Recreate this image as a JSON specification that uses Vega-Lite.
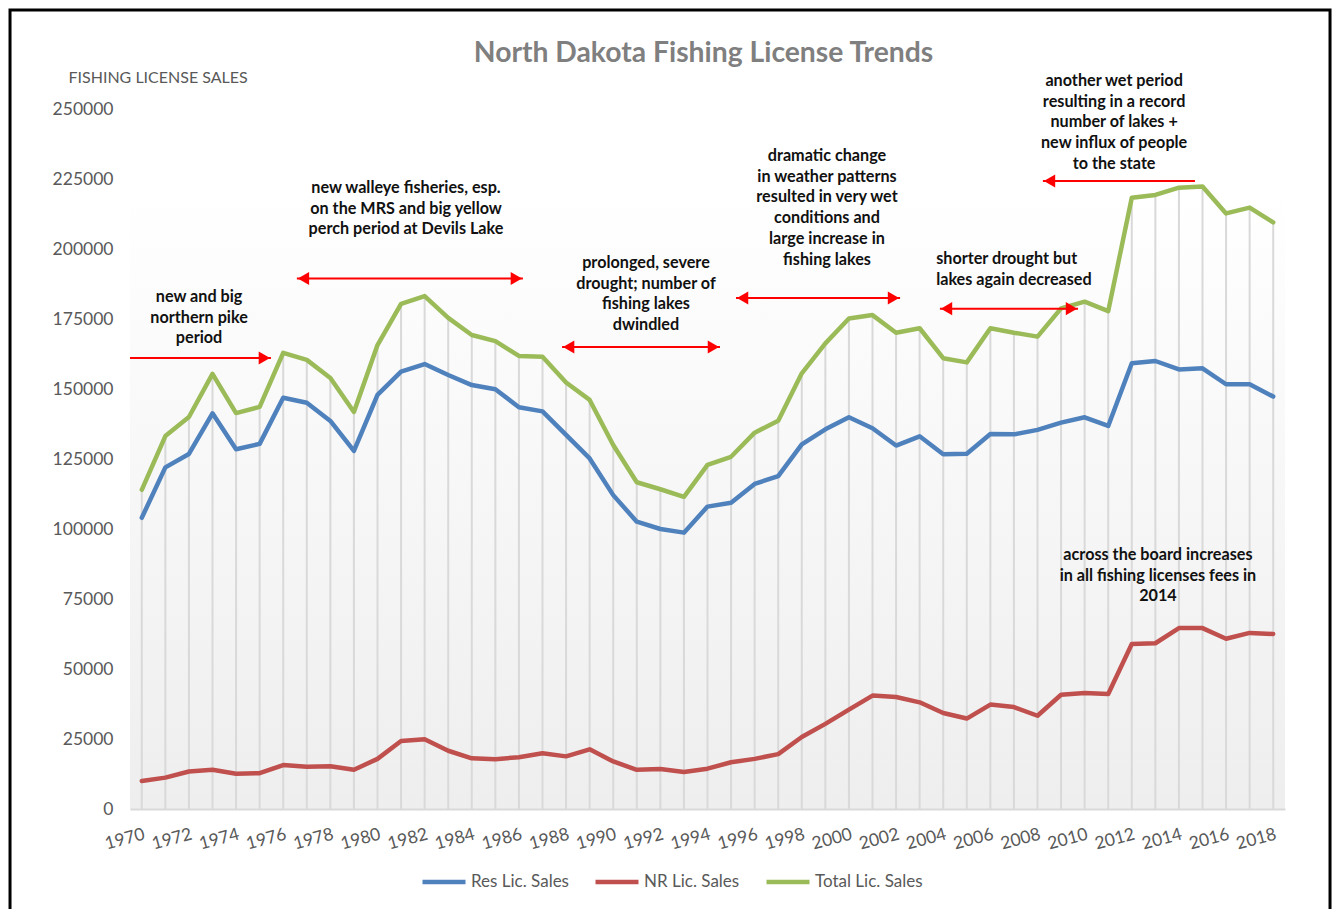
{
  "$schema": "https://vega.github.io/schema/vega-lite/v6.json",
  "autosize": {"type": "none"},
  "width": 1155,
  "height": 700,
  "padding": {"left": 130, "top": 109, "right": 51, "bottom": 100},
  "background": "#ffffff",
  "title": {
    "text": "North Dakota Fishing License Trends",
    "frame": "group",
    "anchor": "middle",
    "baseline": "bottom",
    "dx": -4,
    "offset": -88,
    "font": "Lato",
    "fontSize": 28.3,
    "fontWeight": "bold",
    "color": "#7f7f7f"
  },
  "datasets": {
    "sales": [
      {"year": 1970, "Res": 104000, "NR": 10000, "Total": 114000},
      {"year": 1971, "Res": 122000, "NR": 11200, "Total": 133200},
      {"year": 1972, "Res": 126800, "NR": 13400, "Total": 140000},
      {"year": 1973, "Res": 141300, "NR": 14000, "Total": 155400},
      {"year": 1974, "Res": 128500, "NR": 12600, "Total": 141400},
      {"year": 1975, "Res": 130400, "NR": 12800, "Total": 143600},
      {"year": 1976, "Res": 146900, "NR": 15700, "Total": 162900},
      {"year": 1977, "Res": 145100, "NR": 15100, "Total": 160400},
      {"year": 1978, "Res": 138600, "NR": 15300, "Total": 153900},
      {"year": 1979, "Res": 127900, "NR": 14000, "Total": 141800},
      {"year": 1980, "Res": 147900, "NR": 17900, "Total": 165700},
      {"year": 1981, "Res": 156200, "NR": 24300, "Total": 180400},
      {"year": 1982, "Res": 158900, "NR": 24900, "Total": 183200},
      {"year": 1983, "Res": 155000, "NR": 20800, "Total": 175400},
      {"year": 1984, "Res": 151400, "NR": 18100, "Total": 169300},
      {"year": 1985, "Res": 149900, "NR": 17800, "Total": 167100},
      {"year": 1986, "Res": 143500, "NR": 18500, "Total": 161800},
      {"year": 1987, "Res": 142000, "NR": 19900, "Total": 161500},
      {"year": 1988, "Res": 133600, "NR": 18800, "Total": 152300},
      {"year": 1989, "Res": 125200, "NR": 21300, "Total": 146100},
      {"year": 1990, "Res": 112100, "NR": 17000, "Total": 130000},
      {"year": 1991, "Res": 102600, "NR": 14000, "Total": 116700},
      {"year": 1992, "Res": 100000, "NR": 14300, "Total": 114200},
      {"year": 1993, "Res": 98700, "NR": 13200, "Total": 111500},
      {"year": 1994, "Res": 108000, "NR": 14400, "Total": 122900},
      {"year": 1995, "Res": 109400, "NR": 16700, "Total": 125800},
      {"year": 1996, "Res": 116100, "NR": 17900, "Total": 134400},
      {"year": 1997, "Res": 118900, "NR": 19600, "Total": 138700},
      {"year": 1998, "Res": 130200, "NR": 25700, "Total": 155600},
      {"year": 1999, "Res": 135600, "NR": 30400, "Total": 166300},
      {"year": 2000, "Res": 139900, "NR": 35500, "Total": 175200},
      {"year": 2001, "Res": 136000, "NR": 40500, "Total": 176400},
      {"year": 2002, "Res": 129800, "NR": 40000, "Total": 170100},
      {"year": 2003, "Res": 133100, "NR": 38100, "Total": 171700},
      {"year": 2004, "Res": 126700, "NR": 34300, "Total": 161000},
      {"year": 2005, "Res": 126900, "NR": 32300, "Total": 159500},
      {"year": 2006, "Res": 133900, "NR": 37300, "Total": 171700},
      {"year": 2007, "Res": 133800, "NR": 36400, "Total": 170100},
      {"year": 2008, "Res": 135400, "NR": 33300, "Total": 168700},
      {"year": 2009, "Res": 138000, "NR": 40800, "Total": 178800},
      {"year": 2010, "Res": 139900, "NR": 41400, "Total": 181200},
      {"year": 2011, "Res": 136800, "NR": 41100, "Total": 177800},
      {"year": 2012, "Res": 159200, "NR": 58900, "Total": 218300},
      {"year": 2013, "Res": 160000, "NR": 59200, "Total": 219300},
      {"year": 2014, "Res": 157000, "NR": 64600, "Total": 221900},
      {"year": 2015, "Res": 157400, "NR": 64600, "Total": 222300},
      {"year": 2016, "Res": 151700, "NR": 60800, "Total": 212700},
      {"year": 2017, "Res": 151700, "NR": 62900, "Total": 214800},
      {"year": 2018, "Res": 147300, "NR": 62500, "Total": 209500}
    ],
    "notes": [
      {"x": 1972.43, "y": 182900, "text": "new and big\nnorthern pike\nperiod"},
      {"x": 1981.21, "y": 221800, "text": "new walleye fisheries, esp.\non the MRS and big yellow\nperch period at Devils Lake"},
      {"x": 1991.39, "y": 195000, "text": "prolonged, severe\ndrought; number of\nfishing lakes\ndwindled"},
      {"x": 1999.07, "y": 233200, "text": "dramatic change\nin weather patterns\nresulted in very wet\nconditions and\nlarge increase in\nfishing lakes"},
      {"x": 2011.25, "y": 260000, "text": "another wet period\nresulting in a record\nnumber of lakes +\nnew influx of people\nto the state"},
      {"x": 2013.11, "y": 90700, "text": "across the board increases\nin all fishing licenses fees in\n2014"}
    ],
    "notesLeft": [
      {"x": 2003.7, "y": 196400, "text": "shorter drought but\nlakes again decreased"}
    ],
    "arrows": [
      {"x1": 1969.5, "x2": 1975.48, "y": 161100},
      {"x1": 1976.58, "x2": 1986.17, "y": 189500},
      {"x1": 1987.83, "x2": 1994.53, "y": 165000},
      {"x1": 1995.21, "x2": 2002.17, "y": 182500},
      {"x1": 2003.86, "x2": 2009.72, "y": 178700},
      {"x1": 2008.23, "x2": 2014.68, "y": 224300}
    ],
    "heads": [
      {"x": 1975.2, "y": 161100, "dir": "right"},
      {"x": 1976.86, "y": 189500, "dir": "left"},
      {"x": 1985.89, "y": 189500, "dir": "right"},
      {"x": 1988.11, "y": 165000, "dir": "left"},
      {"x": 1994.25, "y": 165000, "dir": "right"},
      {"x": 1995.49, "y": 182500, "dir": "left"},
      {"x": 2001.89, "y": 182500, "dir": "right"},
      {"x": 2004.14, "y": 178700, "dir": "left"},
      {"x": 2009.44, "y": 178700, "dir": "right"},
      {"x": 2008.51, "y": 224300, "dir": "left"}
    ]
  },
  "layer": [
    {
      "data": {"name": "sales"},
      "mark": {"type": "rule", "color": "#d9d9d9", "strokeWidth": 2},
      "encoding": {
        "x": {
          "field": "year",
          "type": "quantitative",
          "scale": {"domain": [1969.5, 2018.5], "nice": false, "zero": false},
          "axis": {
            "title": null,
            "values": [1970, 1972, 1974, 1976, 1978, 1980, 1982, 1984, 1986, 1988, 1990, 1992, 1994, 1996, 1998, 2000, 2002, 2004, 2006, 2008, 2010, 2012, 2014, 2016, 2018],
            "format": "d",
            "grid": false,
            "ticks": false,
            "tickSize": 0,
            "domain": true,
            "domainColor": "#d9d9d9",
            "domainWidth": 2,
            "labelAngle": -15,
            "labelAlign": "right",
            "labelBaseline": "top",
            "labelPadding": 16,
            "labelFont": "Lato",
            "labelFontSize": 17.5,
            "labelColor": "#595959",
            "labelOverlap": false
          }
        },
        "y": {
          "field": "Total",
          "type": "quantitative",
          "scale": {"domain": [0, 250000], "nice": false},
          "axis": {
            "title": "FISHING LICENSE SALES",
            "titleAngle": 0,
            "titleAlign": "left",
            "titleBaseline": "middle",
            "titleX": -62,
            "titleY": -32,
            "titleFont": "Lato",
            "titleFontSize": 16,
            "titleFontWeight": "normal",
            "titleColor": "#595959",
            "values": [0, 25000, 50000, 75000, 100000, 125000, 150000, 175000, 200000, 225000, 250000],
            "format": "d",
            "grid": false,
            "ticks": false,
            "tickSize": 0,
            "domain": false,
            "labelPadding": 17,
            "labelFont": "Lato",
            "labelFontSize": 17.5,
            "labelColor": "#595959"
          }
        },
        "y2": {"datum": 0}
      }
    },
    {
      "data": {"name": "sales"},
      "transform": [{"fold": ["Res", "NR", "Total"], "as": ["series", "value"]}],
      "mark": {"type": "line", "strokeWidth": 4.5, "strokeJoin": "round", "strokeCap": "round"},
      "encoding": {
        "x": {"field": "year", "type": "quantitative"},
        "y": {"field": "value", "type": "quantitative"},
        "color": {
          "field": "series",
          "type": "nominal",
          "scale": {"domain": ["Res", "NR", "Total"], "range": ["#4f81bd", "#c0504d", "#9bbb59"]},
          "legend": {
            "title": null,
            "orient": "none",
            "direction": "horizontal",
            "legendX": 290,
            "legendY": 749,
            "symbolType": "stroke",
            "symbolStrokeWidth": 4.5,
            "symbolSize": 1849,
            "labelOffset": 3,
            "columnPadding": 17,
            "labelFont": "Lato",
            "labelFontSize": 17,
            "labelColor": "#595959",
            "labelExpr": "datum.label == 'Res' ? 'Res Lic. Sales' : datum.label == 'NR' ? 'NR Lic. Sales' : 'Total Lic. Sales'"
          }
        }
      }
    },
    {
      "data": {"name": "notes"},
      "mark": {"type": "text", "font": "Lato", "fontSize": 16.2, "fontWeight": "bold", "color": "#111111", "align": "center", "baseline": "middle", "lineBreak": "\n", "lineHeight": 20.7},
      "encoding": {
        "x": {"field": "x", "type": "quantitative"},
        "y": {"field": "y", "type": "quantitative"},
        "text": {"field": "text"}
      }
    },
    {
      "data": {"name": "notesLeft"},
      "mark": {"type": "text", "font": "Lato", "fontSize": 16.2, "fontWeight": "bold", "color": "#111111", "align": "left", "baseline": "middle", "lineBreak": "\n", "lineHeight": 20.7},
      "encoding": {
        "x": {"field": "x", "type": "quantitative"},
        "y": {"field": "y", "type": "quantitative"},
        "text": {"field": "text"}
      }
    },
    {
      "data": {"name": "arrows"},
      "mark": {"type": "rule", "color": "#ff0000", "strokeWidth": 2, "clip": false},
      "encoding": {
        "x": {"field": "x1", "type": "quantitative"},
        "x2": {"field": "x2"},
        "y": {"field": "y", "type": "quantitative"}
      }
    },
    {
      "data": {"name": "heads"},
      "mark": {"type": "point", "filled": true, "color": "#ff0000", "opacity": 1, "size": 170},
      "encoding": {
        "x": {"field": "x", "type": "quantitative"},
        "y": {"field": "y", "type": "quantitative"},
        "shape": {
          "field": "dir",
          "type": "nominal",
          "scale": {"domain": ["left", "right"], "range": ["triangle-left", "triangle-right"]},
          "legend": null
        }
      }
    },
    {
      "data": {"values": [{}]},
      "mark": {"type": "rect", "fill": null, "stroke": "#000000", "strokeWidth": 3, "clip": false},
      "encoding": {
        "x": {"datum": 1964.41, "type": "quantitative"},
        "x2": {"datum": 2020.41},
        "y": {"datum": 285400, "type": "quantitative"},
        "y2": {"datum": -40000}
      }
    }
  ],
  "config": {
    "font": "Lato",
    "view": {
      "stroke": null,
      "fill": {
        "gradient": "linear",
        "x1": 0, "y1": 0, "x2": 0, "y2": 1,
        "stops": [
          {"offset": 0, "color": "#ffffff"},
          {"offset": 0.12, "color": "#ffffff"},
          {"offset": 1, "color": "#eeeeee"}
        ]
      }
    }
  }
}
